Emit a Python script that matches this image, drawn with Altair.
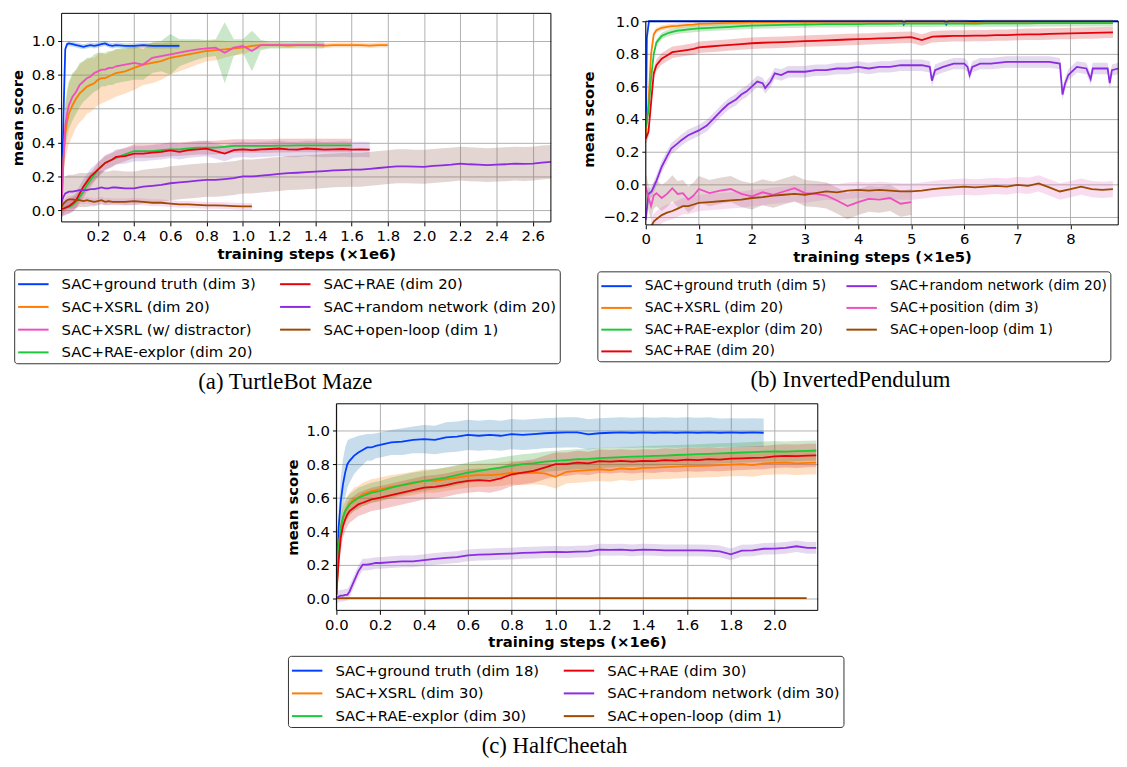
import altair as alt
import pandas as pd

FONT = "DejaVu Sans"
BLUE, ORANGE, GREEN, RED = "#023eff", "#ff7c00", "#1ac938", "#e8000b"
PURPLE, BROWN, PINK = "#8b2be2", "#9f4800", "#f14cc1"
TAB = ["#1f77b4", "#ff7f0e", "#2ca02c", "#d62728", "#9467bd", "#8c564b", "#e377c2"]
GRID = "#b0b0b0"

# ---------------- (a) TurtleBot Maze  (x in 1e6 steps) ----------------
A_X = [0.0, 0.01, 0.02, 0.03, 0.04, 0.06, 0.08, 0.10, 0.12, 0.14, 0.16, 0.18, 0.20, 0.22, 0.24, 0.26, 0.28, 0.30,
       0.35, 0.40, 0.45, 0.50, 0.55, 0.60, 0.65, 0.70, 0.75, 0.80, 0.85, 0.90, 0.95, 1.00, 1.05, 1.10, 1.15, 1.20,
       1.25, 1.30, 1.35, 1.40, 1.45, 1.50, 1.55, 1.60, 1.65, 1.70, 1.75, 1.80, 1.85, 1.90, 1.95, 2.00, 2.05, 2.10,
       2.15, 2.20, 2.25, 2.30, 2.35, 2.40, 2.45, 2.50, 2.55, 2.60, 2.65, 2.70]
A_GT = [0.02, 0.55, 0.95, 0.98, 0.985, 0.98, 0.975, 0.97, 0.965, 0.97, 0.975, 0.97, 0.975, 0.98, 0.985, 0.975,
        0.97, 0.975, 0.97, 0.97, 0.975, 0.97, 0.97, 0.97, 0.97]
A_XSRL = [0.02, 0.3, 0.45, 0.52, 0.57, 0.62, 0.66, 0.69, 0.71, 0.73, 0.74, 0.75, 0.77, 0.78, 0.78, 0.79, 0.80, 0.81,
          0.82, 0.84, 0.86, 0.87, 0.88, 0.9, 0.91, 0.92, 0.93, 0.94, 0.945, 0.95, 0.955, 0.96, 0.97, 0.975,
          0.975, 0.975, 0.972, 0.975, 0.975, 0.975, 0.972, 0.975, 0.975, 0.975, 0.975, 0.972, 0.975, 0.975]
A_XSRL_SD = [0.02, 0.1, 0.15, 0.17, 0.18, 0.18, 0.17, 0.17, 0.17, 0.16, 0.16, 0.15, 0.15, 0.15, 0.14, 0.14, 0.14, 0.14,
             0.13, 0.13, 0.12, 0.12, 0.11, 0.1, 0.09, 0.08, 0.07, 0.06, 0.06, 0.05, 0.04, 0.04, 0.03, 0.02,
             0.015, 0.015, 0.015, 0.015, 0.015, 0.015, 0.015, 0.015, 0.015, 0.015, 0.015, 0.015, 0.015, 0.015]
A_XD = [0.02, 0.3, 0.5, 0.57, 0.62, 0.67, 0.7, 0.74, 0.76, 0.78, 0.79, 0.81, 0.82, 0.83, 0.83, 0.84, 0.84, 0.85,
        0.86, 0.87, 0.86, 0.9, 0.91, 0.92, 0.93, 0.94, 0.95, 0.955, 0.96, 0.93, 0.96, 0.97, 0.94, 0.975,
        0.975, 0.975, 0.975, 0.975, 0.975, 0.975, 0.975]
A_XD_SD = [0.02, 0.1, 0.13, 0.14, 0.14, 0.14, 0.13, 0.13, 0.12, 0.12, 0.11, 0.11, 0.11, 0.1, 0.1, 0.1, 0.1, 0.1,
           0.1, 0.1, 0.09, 0.09, 0.09, 0.12, 0.08, 0.07, 0.06, 0.05, 0.05, 0.18, 0.05, 0.04, 0.12, 0.03,
           0.02, 0.02, 0.02, 0.02, 0.02, 0.02, 0.02]
A_RAEX = [0.01, 0.01, 0.015, 0.02, 0.02, 0.03, 0.05, 0.08, 0.11, 0.15, 0.18, 0.21, 0.24, 0.26, 0.28, 0.29, 0.3, 0.31,
          0.33, 0.35, 0.35, 0.35, 0.355, 0.36, 0.36, 0.365, 0.37, 0.37, 0.37, 0.375, 0.38, 0.38, 0.38, 0.38,
          0.38, 0.382, 0.382, 0.383, 0.383, 0.383, 0.383, 0.383, 0.383, 0.383]
A_RAE = [0.01, 0.01, 0.015, 0.02, 0.025, 0.04, 0.06, 0.1, 0.14, 0.17, 0.2, 0.22, 0.24, 0.26, 0.28, 0.29, 0.3, 0.315,
         0.32, 0.335, 0.335, 0.34, 0.345, 0.354, 0.345, 0.355, 0.36, 0.364, 0.35, 0.335, 0.355, 0.36, 0.355, 0.36,
         0.362, 0.365, 0.36, 0.358, 0.365, 0.362, 0.358, 0.36, 0.362, 0.358, 0.36, 0.358]
A_RAND = [0.05, 0.08, 0.1, 0.105, 0.11, 0.11, 0.115, 0.12, 0.12, 0.12, 0.125, 0.125, 0.13, 0.135, 0.13, 0.13, 0.135,
          0.135, 0.13, 0.13, 0.14, 0.145, 0.15, 0.16, 0.165, 0.17, 0.175, 0.18, 0.18, 0.185, 0.19, 0.2, 0.2, 0.205,
          0.21, 0.215, 0.22, 0.222, 0.225, 0.228, 0.232, 0.236, 0.238, 0.24, 0.24, 0.245, 0.25, 0.255, 0.26, 0.26,
          0.258, 0.257, 0.262, 0.266, 0.27, 0.276, 0.272, 0.27, 0.267, 0.27, 0.272, 0.276, 0.274, 0.276, 0.282, 0.286]
A_OPEN = [0.02, 0.04, 0.05, 0.06, 0.065, 0.065, 0.06, 0.06, 0.055, 0.06, 0.055, 0.05, 0.055, 0.06, 0.05, 0.055, 0.05,
          0.05, 0.05, 0.055, 0.05, 0.045, 0.045, 0.04, 0.035, 0.035, 0.033, 0.03, 0.03, 0.028, 0.025, 0.023, 0.023]

# ---------------- (b) InvertedPendulum  (x in 1e5 steps) ----------------
B_X = [0.0, 0.05, 0.1, 0.15, 0.2, 0.3, 0.4, 0.5, 0.6, 0.7, 0.8, 0.9, 1.0, 1.2, 1.4, 1.6, 1.8, 2.0, 2.2, 2.4, 2.6,
       2.8, 3.0, 3.2, 3.4, 3.6, 3.8, 4.0, 4.2, 4.4, 4.6, 4.8, 5.0, 5.2, 5.4, 5.6, 5.8, 6.0, 6.2, 6.4, 6.6, 6.8,
       7.0, 7.2, 7.4, 7.6, 7.8, 8.0, 8.2, 8.4, 8.6, 8.8]
B_GT_X = [0.0, 0.02, 0.06, 0.1, 1.0, 2.0, 3.0, 4.0, 4.83, 4.86, 4.9, 5.0, 5.63, 5.66, 5.7, 6.0, 7.0, 8.0, 8.9]
B_GT = [0.3, 0.9, 1.0, 1.0, 1.0, 1.0, 1.0, 1.0, 1.0, 0.98, 1.0, 1.0, 1.0, 0.98, 1.0, 1.0, 1.0, 1.0, 1.0]
B_XSRL = [0.3, 0.5, 0.8, 0.92, 0.945, 0.96, 0.965, 0.97, 0.972, 0.975, 0.978, 0.98, 0.984, 0.986, 0.988, 0.99,
          0.992, 0.994, 0.995, 0.995, 0.996, 0.996, 0.997, 0.997, 0.998, 0.998, 0.998, 0.998, 0.998, 0.998, 0.998,
          0.998, 0.998, 0.998, 0.998, 0.998, 0.998, 0.998, 0.99, 0.998, 0.998, 0.998, 0.998, 0.998, 0.998, 0.998,
          0.998, 0.998, 0.998, 0.998, 0.998, 0.998]
B_RAEX = [0.35, 0.45, 0.65, 0.8, 0.87, 0.91, 0.925, 0.935, 0.942, 0.946, 0.95, 0.953, 0.956, 0.96, 0.963, 0.966,
          0.97, 0.973, 0.975, 0.976, 0.978, 0.979, 0.98, 0.981, 0.982, 0.982, 0.983, 0.983, 0.984, 0.984, 0.984,
          0.985, 0.985, 0.985, 0.985, 0.986, 0.986, 0.986, 0.986, 0.987, 0.987, 0.987, 0.987, 0.987, 0.988, 0.988,
          0.988, 0.988, 0.988, 0.988, 0.988, 0.988]
B_RAE = [0.28, 0.32, 0.5, 0.68, 0.73, 0.77, 0.79, 0.81, 0.815, 0.82, 0.825, 0.83, 0.84, 0.845, 0.85, 0.855, 0.86,
         0.865, 0.868, 0.87, 0.872, 0.875, 0.878, 0.88, 0.882, 0.885, 0.888, 0.89, 0.892, 0.895, 0.897, 0.9, 0.902,
         0.885, 0.905, 0.908, 0.91, 0.91, 0.912, 0.912, 0.915, 0.915, 0.918, 0.92, 0.92, 0.922, 0.924, 0.925, 0.927,
         0.928, 0.93, 0.932]
B_RAND_X = [0.0, 0.05, 0.11, 0.2, 0.3, 0.4, 0.48, 0.6, 0.67, 0.8, 1.0, 1.15, 1.3, 1.45, 1.55, 1.7, 1.8, 1.9, 2.0,
            2.1, 2.2, 2.25, 2.35, 2.43, 2.55, 2.68, 2.8, 3.0, 3.2, 3.4, 3.6, 3.8, 4.0, 4.2, 4.4, 4.6, 4.8, 5.0, 5.2,
            5.35, 5.39, 5.45, 5.6, 5.8, 6.0, 6.06, 6.1, 6.15, 6.3, 6.5, 6.8, 7.0, 7.3, 7.6, 7.8, 7.85, 7.9, 7.96,
            8.12, 8.3, 8.38, 8.42, 8.55, 8.7, 8.74, 8.78, 8.9]
B_RAND = [-0.22, -0.06, -0.045, 0.02, 0.107, 0.17, 0.218, 0.25, 0.27, 0.3, 0.33, 0.36, 0.41, 0.46, 0.49, 0.52,
          0.55, 0.57, 0.6, 0.63, 0.62, 0.59, 0.63, 0.68, 0.67, 0.69, 0.69, 0.69, 0.7, 0.7, 0.71, 0.71, 0.72, 0.71,
          0.72, 0.72, 0.73, 0.73, 0.73, 0.72, 0.635, 0.7, 0.72, 0.74, 0.74, 0.72, 0.67, 0.72, 0.74, 0.74, 0.75,
          0.75, 0.75, 0.75, 0.74, 0.55, 0.62, 0.67, 0.72, 0.71, 0.645, 0.71, 0.71, 0.71, 0.62, 0.7, 0.71]
B_POS = [-0.015, -0.08, -0.135, -0.07, -0.055, -0.085, -0.06, -0.025, -0.06, -0.055, -0.095, -0.07, -0.03,
         -0.055, -0.04, -0.03, -0.06, -0.075, -0.05, -0.065, -0.045, -0.025, -0.055, -0.06, -0.07, -0.1, -0.135,
         -0.11, -0.09, -0.095, -0.085, -0.12, -0.11]
B_OPEN = [-0.26, -0.23, -0.215, -0.19, -0.175, -0.165, -0.15, -0.135, -0.135, -0.125, -0.115, -0.11, -0.105,
          -0.1, -0.095, -0.085, -0.08, -0.07, -0.065, -0.06, -0.065, -0.055, -0.045, -0.05, -0.04, -0.035, -0.04,
          -0.035, -0.04, -0.045, -0.045, -0.04, -0.03, -0.025, -0.02, -0.015, -0.02, -0.015, -0.01, -0.015,
          -0.005, -0.01, 0.005, -0.02, -0.045, -0.03, -0.015, -0.03, -0.035, -0.03]

# ---------------- (c) HalfCheetah  (x in 1e6 steps) ----------------
C_X = [0.0, 0.01, 0.02, 0.03, 0.04, 0.05, 0.06, 0.08, 0.10, 0.12, 0.14, 0.16, 0.18, 0.20, 0.25, 0.30, 0.35, 0.40,
       0.45, 0.50, 0.55, 0.60, 0.65, 0.70, 0.75, 0.80, 0.85, 0.90, 0.95, 1.00, 1.05, 1.10, 1.15, 1.20, 1.25, 1.30,
       1.35, 1.40, 1.45, 1.50, 1.55, 1.60, 1.65, 1.70, 1.75, 1.80, 1.85, 1.90, 1.95, 2.00, 2.05, 2.10, 2.15, 2.19]
C_GT = [0.02, 0.42, 0.58, 0.68, 0.75, 0.8, 0.82, 0.85, 0.87, 0.885, 0.9, 0.9, 0.91, 0.915, 0.93, 0.935, 0.945,
        0.95, 0.945, 0.96, 0.965, 0.975, 0.97, 0.975, 0.97, 0.98, 0.975, 0.98, 0.985, 0.988, 0.99, 0.99, 0.978,
        0.985, 0.988, 0.99, 0.988, 0.99, 0.988, 0.99, 0.988, 0.99, 0.988, 0.99, 0.988, 0.99, 0.988, 0.99, 0.988]
C_GT_SD = [0.02, 0.1, 0.14, 0.15, 0.15, 0.14, 0.13, 0.11, 0.1, 0.09, 0.08, 0.08, 0.075, 0.075, 0.075, 0.08, 0.08,
           0.085, 0.085, 0.09, 0.09, 0.09, 0.09, 0.09, 0.09, 0.09, 0.09, 0.09, 0.09, 0.09, 0.09, 0.09, 0.09, 0.09,
           0.09, 0.09, 0.09, 0.09, 0.09, 0.09, 0.09, 0.09, 0.09, 0.09, 0.085, 0.085, 0.085, 0.085, 0.085]
C_XSRL = [0.02, 0.3, 0.42, 0.48, 0.52, 0.54, 0.56, 0.59, 0.6, 0.62, 0.63, 0.64, 0.645, 0.65, 0.665, 0.675, 0.685,
          0.7, 0.7, 0.71, 0.72, 0.73, 0.735, 0.735, 0.74, 0.75, 0.745, 0.75, 0.745, 0.725, 0.755, 0.76, 0.765,
          0.77, 0.765, 0.775, 0.77, 0.778, 0.78, 0.782, 0.785, 0.788, 0.79, 0.792, 0.795, 0.798, 0.8, 0.795,
          0.805, 0.808, 0.81, 0.805, 0.808, 0.81]
C_RAEX = [0.02, 0.3, 0.42, 0.48, 0.52, 0.54, 0.56, 0.58, 0.6, 0.61, 0.62, 0.63, 0.635, 0.64, 0.66, 0.675, 0.69,
          0.7, 0.71, 0.72, 0.735, 0.75, 0.76, 0.77, 0.78, 0.79, 0.8, 0.805, 0.815, 0.82, 0.825, 0.83, 0.832, 0.837,
          0.84, 0.843, 0.845, 0.847, 0.85, 0.852, 0.855, 0.857, 0.86, 0.862, 0.865, 0.867, 0.87, 0.872, 0.875,
          0.877, 0.875, 0.878, 0.88, 0.882]
C_RAE = [0.02, 0.22, 0.36, 0.43, 0.47, 0.5, 0.52, 0.54, 0.56, 0.57, 0.58, 0.59, 0.595, 0.6, 0.615, 0.63, 0.645,
         0.66, 0.665, 0.675, 0.69, 0.7, 0.705, 0.7, 0.715, 0.74, 0.75, 0.76, 0.78, 0.8, 0.8, 0.81, 0.805, 0.818,
         0.815, 0.82, 0.815, 0.82, 0.818, 0.825, 0.822, 0.828, 0.825, 0.83, 0.828, 0.833, 0.835, 0.838, 0.84,
         0.847, 0.85, 0.848, 0.852, 0.853]
C_RAND = [0.0, 0.01, 0.015, 0.015, 0.02, 0.02, 0.04, 0.1, 0.16, 0.2, 0.2, 0.205, 0.21, 0.21, 0.215, 0.22, 0.22,
          0.227, 0.235, 0.24, 0.245, 0.256, 0.26, 0.262, 0.265, 0.266, 0.27, 0.272, 0.275, 0.276, 0.275, 0.278,
          0.28, 0.29, 0.288, 0.29, 0.285, 0.29, 0.288, 0.286, 0.285, 0.286, 0.285, 0.284, 0.28, 0.262, 0.284,
          0.285, 0.295, 0.296, 0.3, 0.31, 0.3, 0.3]
C_OPEN_X = [0.0, 0.5, 1.0, 1.5, 2.0, 2.146]
C_OPEN = [0.0, 0.0, 0.0, 0.0, 0.0, 0.0]


def build(series):
    rows = []
    for name, xs, ys, sd in series:
        for i, (x, y) in enumerate(zip(xs, ys)):
            s = sd[i] if isinstance(sd, list) else sd
            rows.append({"series": name, "band": name, "x": x, "y": y, "lo": y - s, "hi": y + s})
    return pd.DataFrame(rows)


def legend(lx, ly, fs, cp):
    # short line handle drawn as a custom path: 22px layout box, ~31px visible line
    return alt.Legend(orient="none", legendX=lx, legendY=ly, columns=2, title=None,
                      symbolType="M-1,0H1.8", symbolSize=484, symbolStrokeWidth=2,
                      labelFont=FONT, labelFontSize=fs, labelColor="black", labelLimit=600,
                      labelOffset=21, rowPadding=3, columnPadding=cp, padding=3,
                      strokeColor="#333333", cornerRadius=3, fillColor="white")


def panel(series, colors, xdom, ydom, frame_top, xticks, yticks, xfmt, xtitle, w, h, lxy, caption,
          lfs=15, lcp=20, rule_grid=False, left_pad=0):
    df = build(series)
    plot_order = [s[0] for s in series]
    n = len(plot_order)
    xs = alt.Scale(domain=xdom, nice=False, zero=False)
    ys = alt.Scale(domain=ydom, nice=False, zero=False)
    xa = alt.Axis(values=xticks, format=xfmt, title=xtitle, grid=not rule_grid)
    ya = alt.Axis(values=yticks, format=".1f", title="mean score")
    layers = []
    if rule_grid:
        gdf = pd.DataFrame({"gx": xticks, "gy0": [ydom[0]] * len(xticks), "gy1": [frame_top] * len(xticks)})
        layers.append(alt.Chart(gdf).mark_rule(color=GRID, strokeWidth=1).encode(
            x=alt.X("gx:Q", scale=xs, axis=xa), y=alt.Y("gy0:Q", scale=ys, axis=ya), y2="gy1:Q"))
    # band scale uses the reversed order so that its (hidden) legend is never merged with the line legend
    layers.append(alt.Chart(df).mark_area(opacity=0.25, clip=True).encode(
        x=alt.X("x:Q", scale=xs, axis=xa),
        y=alt.Y("lo:Q", scale=ys, axis=ya, stack=None),
        y2="hi:Q",
        fill=alt.Fill("band:N", scale=alt.Scale(domain=plot_order[::-1], range=TAB[:n][::-1]), legend=None),
    ))
    layers.append(alt.Chart(df).mark_line(strokeWidth=1.8, clip=True).encode(
        x=alt.X("x:Q", scale=xs, axis=xa),
        y=alt.Y("y:Q", scale=ys, axis=ya),
        stroke=alt.Stroke("series:N", scale=alt.Scale(domain=plot_order, range=colors),
                          legend=legend(lxy[0], lxy[1], lfs, lcp)),
    ))
    fdf = pd.DataFrame({"fx0": [xdom[0]], "fx1": [xdom[1]], "fy0": [ydom[0]], "fy1": [frame_top]})
    layers.append(alt.Chart(fdf).mark_rect(fillOpacity=0, stroke="black", strokeWidth=1).encode(
        x=alt.X("fx0:Q", scale=xs, axis=xa), x2="fx1:Q",
        y=alt.Y("fy0:Q", scale=ys, axis=ya), y2="fy1:Q"))
    if left_pad:
        # white-on-white layout spacer widening the panel's bounds on the left (centres the panel as in the figure)
        layers.append(alt.Chart(pd.DataFrame({"t": ["."]})).mark_text(
            color="white", align="right", dx=-left_pad, fontSize=15).encode(
            x=alt.value(0), y=alt.value(h / 2), text="t:N"))
    return alt.layer(*layers).properties(
        width=w, height=h,
        title=alt.TitleParams(caption, orient="bottom", font="Liberation Serif", fontSize=23,
                              fontWeight="normal", color="black", offset=8, anchor="middle",
                              frame="bounds"))


A_series = [
    ("SAC+ground truth (dim 3)", A_X[:25], A_GT, 0.015),
    ("SAC+XSRL (dim 20)", A_X[:48], A_XSRL, A_XSRL_SD),
    ("SAC+XSRL (w/ distractor)", A_X[:41], A_XD, A_XD_SD),
    ("SAC+RAE-explor (dim 20)", A_X[:44], A_RAEX, 0.04),
    ("SAC+RAE (dim 20)", A_X[:46], A_RAE, 0.045),
    ("SAC+random network (dim 20)", A_X, A_RAND, 0.1),
    ("SAC+open-loop (dim 1)", A_X[:33], A_OPEN, 0.02),
]
A_colors = [BLUE, ORANGE, PINK, GREEN, RED, PURPLE, BROWN]

B_series = [
    ("SAC+ground truth (dim 5)", B_GT_X, B_GT, 0.005),
    ("SAC+XSRL (dim 20)", B_X, B_XSRL, 0.015),
    ("SAC+RAE-explor (dim 20)", B_X, B_RAEX, 0.02),
    ("SAC+RAE (dim 20)", B_X, B_RAE, 0.035),
    ("SAC+random network (dim 20)", B_RAND_X, B_RAND, 0.035),
    ("SAC+position (dim 3)", B_X[:33], B_POS, 0.08),
    ("SAC+open-loop (dim 1)", B_X[2:], B_OPEN, 0.05),
]
B_colors = [BLUE, ORANGE, GREEN, RED, PURPLE, PINK, BROWN]

C_series = [
    ("SAC+ground truth (dim 18)", C_X[:49], C_GT, C_GT_SD),
    ("SAC+XSRL (dim 30)", C_X, C_XSRL, 0.07),
    ("SAC+RAE-explor (dim 30)", C_X, C_RAEX, 0.06),
    ("SAC+RAE (dim 30)", C_X, C_RAE, 0.07),
    ("SAC+random network (dim 30)", C_X, C_RAND, 0.035),
    ("SAC+open-loop (dim 1)", C_OPEN_X, C_OPEN, 0.004),
]
C_colors = [BLUE, ORANGE, GREEN, RED, PURPLE, BROWN]

A_XT = [0.2, 0.4, 0.6, 0.8, 1.0, 1.2, 1.4, 1.6, 1.8, 2.0, 2.2, 2.4, 2.6]
B_XT = [0, 1, 2, 3, 4, 5, 6, 7, 8]
C_XT = [0.0, 0.2, 0.4, 0.6, 0.8, 1.0, 1.2, 1.4, 1.6, 1.8, 2.0]
Y_T = [0.0, 0.2, 0.4, 0.6, 0.8, 1.0]
B_YT = [-0.2, 0.0, 0.2, 0.4, 0.6, 0.8, 1.0]

A = panel(A_series, A_colors, [0, 2.7], [-0.068, 1.162], 1.162, A_XT, Y_T, ".1f",
          "training steps (×1e6)", 495, 211, (-48, 259), "(a) TurtleBot Maze")
# panel (b): plot area runs up to 1.0 only; an empty 8px strip above it lowers the frame as in the figure
B = panel(B_series, B_colors, [0, 8.9], [-0.25, 1.0485], 1.0, B_XT, B_YT, "d",
          "training steps (×1e5)", 478, 214, (-49, 261), "(b) InvertedPendulum", lfs=14, lcp=16,
          rule_grid=True)
C = panel(C_series, C_colors, [0, 2.197], [-0.073, 1.161], 1.161, C_XT, Y_T, ".1f",
          "training steps (×1e6)", 487, 209, (-49, 255), "(c) HalfCheetah", left_pad=68)

RS = dict(x="independent", y="independent", stroke="independent", fill="independent")
top = alt.hconcat(A, B, spacing=21).resolve_scale(**RS).resolve_legend(stroke="independent", fill="independent")
chart = alt.vconcat(top, C, spacing=8, center=True).resolve_scale(**RS).resolve_legend(
    stroke="independent", fill="independent")

chart = chart.properties(padding={"left": 2, "top": 0, "right": 0, "bottom": 0}).configure_view(
    stroke="transparent", strokeWidth=0
).configure_axis(
    labelFont=FONT, labelFontSize=15, labelColor="black", titleFont=FONT, titleFontSize=15,
    titleFontWeight="bold", titleColor="black", tickColor="black", tickSize=4, tickWidth=1,
    domain=False, gridColor=GRID, gridWidth=1, gridOpacity=1,
    labelPadding=3, labelFlush=False, labelOverlap=False
).configure_axisX(titlePadding=3).configure_axisY(titlePadding=6)

chart.save("out.html", embed_options={"renderer": "svg", "actions": False})
